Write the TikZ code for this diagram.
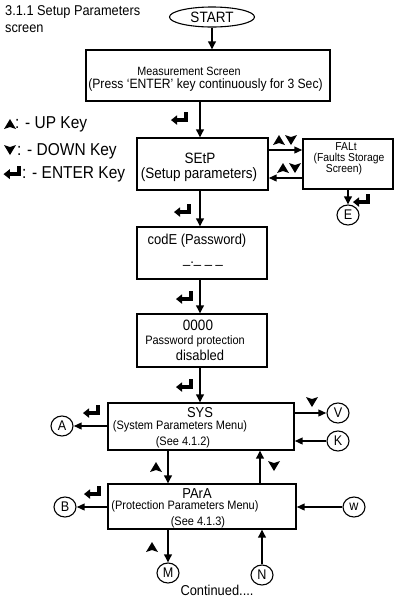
\documentclass[tikz,border=0pt]{standalone}
\usepackage{fontspec}
\setmainfont[FakeStretch=0.9]{Liberation Sans}
\usetikzlibrary{arrows.meta,shapes.geometric}
\newcommand\fsz[1]{\fontsize{#1}{#1}\selectfont}
\begin{document}
\begin{tikzpicture}[x=1pt,y=-1pt,
  box/.style={draw, line width=1.1pt, inner sep=0pt},
  txt/.style={anchor=base, inner sep=0pt},
  ltxt/.style={anchor=base west, inner sep=0pt},
  circ/.style={draw, ellipse, line width=1.1pt, minimum width=22pt, minimum height=20pt, inner sep=0pt, font=\fsz{14}},
  arr/.style={line width=2.6pt, -{Triangle[width=7.5pt,length=8pt]}},
  harr/.style={line width=2.4pt, -{Triangle[width=6.5pt,length=8pt]}},
  upkey/.pic={\fill (0,-5) -- (6,5) -- (0,3) -- (-6,5) -- cycle;},
  downkey/.pic={\fill (0,5) -- (6,-5) -- (0,-3) -- (-6,-5) -- cycle;},
  enterkey/.pic={\fill (4,-6) rectangle (8,3.8);
                 \fill (-3,0.3) rectangle (8,3.8);
                 \fill (-9,2.05) -- (-3,-2.7) -- (-3,6.8) -- cycle;}
]
\useasboundingbox (0,0) rectangle (397,598);

% title
\node[ltxt, font=\fsz{14.2}] (t1) at (5,15) {3.1.1 Setup Parameters};
\node[ltxt, font=\fsz{14.2}] (t2) at (5,32) {screen};

% legend
\pic at (10,124) {upkey};
\node[ltxt, font=\fsz{17.2}] (lg1) at (15,128) {: - UP Key};
\pic at (10,150) {downkey};
\node[ltxt, font=\fsz{17.2}] (lg2) at (17,155) {: - DOWN Key};
\pic[scale=1.05] at (13,172) {enterkey};
\node[ltxt, font=\fsz{17.2}] (lg3) at (22,178) {: - ENTER Key};

% start
\node[draw, ellipse, line width=1.1pt, minimum width=85pt, minimum height=20pt, inner sep=0pt, font=\fsz{15}] (start) at (212,17) {START};

% boxes
\node[box, minimum width=244pt, minimum height=51pt] (meas) at (208,75.5) {};
\node[txt, font=\fsz{12}] (meas1) at (189,75) {Measurement Screen};
\node[txt, font=\fsz{13.5}] (meas2) at (205.5,88) {(Press ‘ENTER’ key continuously for 3 Sec)};

\node[box, minimum width=131pt, minimum height=52pt] (setp) at (202.5,164) {};
\node[txt, font=\fsz{15}] (setp1) at (200,163) {SEtP};
\node[txt, font=\fsz{15}] (setp2) at (199,178.5) {(Setup parameters)};

\node[box, minimum width=90pt, minimum height=50pt] (falt) at (348,164) {};
\node[txt, font=\fsz{11.5}] (falt1) at (346,150) {FALt};
\node[txt, font=\fsz{11.5}] (falt2) at (349,161) {(Faults Storage};
\node[txt, font=\fsz{11.5}] (falt3) at (344,172) {Screen)};

\node[box, minimum width=130pt, minimum height=52pt] (code) at (202,253) {};
\node[txt, font=\fsz{14.4}] (code1) at (197,244) {codE (Password)};
\node[txt, font=\fsz{14.4}] (code2) at (203,263) {\_.\_\ \_\ \_};

\node[box, minimum width=130pt, minimum height=53pt] (zero) at (202,340.5) {};
\node[txt, font=\fsz{15}] (zero1) at (198,330) {0000};
\node[txt, font=\fsz{12.2}] (zero2) at (195,344) {Password protection};
\node[txt, font=\fsz{14.4}] (zero3) at (200,360) {disabled};

\node[box, minimum width=186pt, minimum height=47pt] (sys) at (201,426.5) {};
\node[txt, font=\fsz{14.4}] (sys1) at (200,417) {SYS};
\node[txt, font=\fsz{12.2}] (sys2) at (180,429.5) {(System Parameters Menu)};
\node[txt, font=\fsz{12.2}] (sys3) at (183,445) {(See 4.1.2)};

\node[box, minimum width=188pt, minimum height=45pt] (para) at (202,506.5) {};
\node[txt, font=\fsz{14.4}] (para1) at (197,498) {PArA};
\node[txt, font=\fsz{12.2}] (para2) at (185,509.5) {(Protection Parameters Menu)};
\node[txt, font=\fsz{12.2}] (para3) at (198,525) {(See 4.1.3)};

% connectors
\node[circ] (e) at (348,215) {E};
\node[circ] (a) at (62,426) {A};
\node[circ] (v) at (338,413) {V};
\node[circ] (k) at (338,441) {K};
\node[circ] (b) at (65,507) {B};
\node[circ] (w) at (354,507) {w};
\node[circ] (m) at (168,573) {M};
\node[circ] (n) at (262,575) {N};

\node[txt, font=\fsz{14.3}] (cont) at (217,595) {Continued....};

% arrows
\draw[arr] (start.south) -- (meas.north -| start.south);
\draw[arr] (meas.south -| 200,0) -- (setp.north -| 200,0);
\draw[arr] (setp.south -| 200,0) -- (code.north -| 200,0);
\draw[arr] (code.south -| 200,0) -- (zero.north -| 200,0);
\draw[arr] (zero.south -| 200,0) -- (sys.north -| 200,0);
\draw[harr] (setp.east |- 0,150) -- (falt.west |- 0,150);
\draw[harr] (falt.west |- 0,178) -- (setp.east |- 0,178);
\draw[arr] (falt.south -| e) -- (e);
\draw[harr] (sys.west |- a) -- (a);
\draw[harr] (sys.east |- v) -- (v);
\draw[harr] (k) -- (sys.east |- k);
\draw[arr] (sys.south -| 168,0) -- (para.north -| 168,0);
\draw[arr] (para.north -| 260,0) -- (sys.south -| 260,0);
\draw[harr] (para.west |- b) -- (b);
\draw[harr] (w) -- (para.east |- w);
\draw[arr] (para.south -| m) -- (m);
\draw[arr] (n) -- (para.south -| n);

% key symbols
\pic at (180,118) {enterkey};
\pic at (183,210) {enterkey};
\pic at (185,297) {enterkey};
\pic at (185,385) {enterkey};
\pic at (362,200) {enterkey};
\pic at (92,411) {enterkey};
\pic at (93,492) {enterkey};
\pic at (279,140) {upkey};
\pic at (291,140) {downkey};
\pic at (283,168) {upkey};
\pic at (295,168) {downkey};
\pic at (312,402) {downkey};
\pic at (156,467) {upkey};
\pic at (274,466) {downkey};
\pic at (152,547) {upkey};
\end{tikzpicture}
\end{document}
